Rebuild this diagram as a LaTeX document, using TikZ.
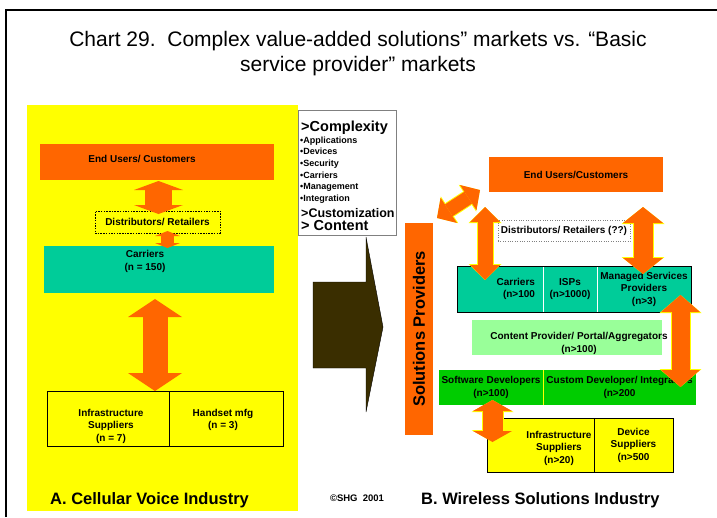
\documentclass[tikz,border=0pt]{standalone}
\usepackage{fontspec}
\setmainfont{Liberation Sans}
\usepackage{tikz}
\usetikzlibrary{positioning,calc,arrows.meta}

\definecolor{orng}{RGB}{255,102,0}
\definecolor{ylw}{RGB}{255,255,0}
\definecolor{teal2}{RGB}{0,204,153}
\definecolor{ltgreen}{RGB}{153,255,153}
\definecolor{grn}{RGB}{0,204,0}
\definecolor{darkbrown}{RGB}{58,46,0}

\begin{document}
\begin{tikzpicture}[x=1pt, y=-1pt,
    cellbox/.style 2 args={minimum width=#1, minimum height=#2, inner sep=0pt, outer sep=0pt,
        font=\bfseries\fontsize{10}{12.5}\selectfont, align=center},
    lbl/.style={font=\bfseries\fontsize{10}{12.5}\selectfont, align=center, inner sep=0pt},
    heading/.style={font=\bfseries\fontsize{16.5}{19}\selectfont, inner sep=0pt},
    bigline/.style={font=\bfseries\fontsize{#1}{16}\selectfont, anchor=west, inner sep=0pt},
    dbl/.style args={#1/#2/#3}{draw=orng, line width=#1,
        {Triangle[width=#2,length=#3,line width=0pt]}-{Triangle[width=#2,length=#3,line width=0pt]}},
    rim/.style args={#1/#2/#3}{preaction={draw=ylw, line width=#1,
        {Triangle[width=#2,length=#3,line width=0pt]}-{Triangle[width=#2,length=#3,line width=0pt]}}}]

    \useasboundingbox (0,0) rectangle (717,517);

    % frame and title
    \draw[line width=2pt] (6,517) -- (6,10) -- (717,10);
    \node[font=\fontsize{21}{25}\selectfont, align=center] (title) at (358,53.5)
        {Chart 29.\ \ Complex value-added solutions” markets vs. “Basic\\service provider” markets};

    % A. Cellular voice industry
    \fill[ylw] (27,105) rectangle (298,511);
    \node[cellbox={234}{36}, fill=orng] (euA) at (157,162) {};
    \node[lbl] (euAtxt) at (142,159) {End Users/ Customers};
    \node[cellbox={125}{22}, fill=ylw, draw, dash pattern=on 1.5pt off 1.2pt] (distA) at (157.5,222) {Distributors/ Retailers};
    \node[cellbox={230}{47}, fill=teal2] (carA) at (159,269.5) {};
    \node[lbl] (carAtxt) at (145,261.5) {Carriers\\(n = 150)};
    \node[cellbox={122}{55}, draw, thick] (infA) at (108,418.5) {};
    \node[cellbox={114}{55}, draw, thick, right=0pt of infA] (hsA) {};
    \node[lbl] (infAtxt) at (111,426) {Infrastructure\\Suppliers\\(n = 7)};
    \node[lbl] (hsAtxt) at (223,420) {Handset mfg\\(n = 3)};

    \draw[dbl=27pt/49pt/9pt] ($(euA.south)+(1.5,1)$) -- ($(distA.north)+(1,3)$);
    \draw[dbl=13pt/25pt/5pt] ($(distA.south)+(10,-2)$) -- ($(carA.north)+(8.5,2)$);
    \draw[dbl=25pt/54pt/18pt] ($(carA.south)+(-4,6)$) -- ($(infA.north east)+(-14,0)$);

    \node[heading, anchor=west] (titleA) at (50,500) {A. Cellular Voice Industry};

    % shift arrow
    \filldraw[fill=darkbrown, draw=black] (313,282) -- (366,282) -- (366,237) -- (383,327)
        -- (366,412) -- (366,368) -- (313,368) -- cycle;

    % what changes
    \node[draw=gray, fill=white, minimum width=98, minimum height=125, inner sep=0pt] (cplx) at (347,172.5) {};
    \node[bigline=14.5] (cx) at (301,128) {>Complexity};
    \node[font=\bfseries\fontsize{9}{11.6}\selectfont, align=left, anchor=north west, inner sep=0pt] (cxlist) at (300,136.5)
        {•Applications\\•Devices\\•Security\\•Carriers\\•Management\\•Integration};
    \node[bigline=12.5] (cu) at (301,213) {>Customization};
    \node[bigline=14.5] (ct) at (301,226) {> Content};

    % B. Wireless solutions industry
    \node[cellbox={28}{212}, fill=orng] (sp) at (419,329) {};
    \node[font=\bfseries\fontsize{16.5}{19}\selectfont, rotate=90] (sptxt) at (sp.center) {Solutions Providers};
    \node[cellbox={174}{35}, fill=orng] (euB) at (576,174.5) {End Users/Customers};
    \node[cellbox={132}{21}, draw=gray, dotted] (distB) at (564,230.5) {Distributors/ Retailers (??)};
    \node[cellbox={86}{46}, fill=teal2, draw=white] (carB) at (500,289) {};
    \node[lbl, align=right, text width=70pt] (carBtxt) at (carB) {Carriers\\(n>100};
    \node[cellbox={54}{46}, fill=teal2, draw=white, right=0pt of carB] (ispB) {ISPs\\(n>1000)};
    \node[cellbox={94}{46}, fill=teal2, draw=white, right=0pt of ispB] (msB) {Managed Services\\Providers\\(n>3)};
    \draw[thick] (carB.north west) rectangle (msB.south east);
    \node[cellbox={190}{35}, fill=ltgreen] (cpB) at (567,337.5) {};
    \node[lbl] (cpBtxt) at (579,343.5) {Content Provider/ Portal/Aggregators\\(n>100)};
    \node[cellbox={104}{35}, fill=grn] (swB) at (491,387.5) {Software Developers\\(n>100)};
    \node[cellbox={153}{35}, fill=grn, right=0pt of swB] (cdB) {Custom Developer/ Integrators\\(n>200};
    \draw[ylw] (swB.north east) -- (swB.south east);
    \node[cellbox={107}{54}, fill=ylw, draw, thick] (inB) at (540.5,445) {};
    \node[cellbox={79}{54}, fill=ylw, draw, thick, right=0pt of inB] (dvB) {Device\\Suppliers\\(n>500};
    \node[lbl] (inBtxt) at (559,448) {Infrastructure\\Suppliers\\(n>20)};

    \draw[rim=16pt/32pt/15pt, dbl=14pt/30pt/14pt] ($(sp.north east)+(4,-5)$) -- ($(euB.south west)+(-9,-2)$);
    \draw[rim=17pt/33pt/16pt, dbl=15pt/30pt/15pt] ($(euB.south west)+(-4,15)$) -- ($(carB.north)+(-15,14)$);
    \draw[rim=21pt/43pt/17pt, dbl=19pt/40pt/16pt] ($(euB.south east)+(-20,15)$) -- ($(msB.north)+(-1,8)$);
    \draw[rim=20pt/42pt/18pt, dbl=18pt/39pt/17pt] ($(msB.south east)+(-10.5,-17)$) -- ($(cdB.north east)+(-15.5,17)$);
    \draw[rim=22pt/42pt/12pt, dbl=20pt/39pt/11pt] ($(swB.south)+(1.5,-5)$) -- ($(inB.north west)+(5.5,24)$);

    \node[heading, anchor=west] (titleB) at (421,500) {B. Wireless Solutions Industry};
    \node[font=\bfseries\fontsize{9.5}{11}\selectfont] (copy) at (357,498) {©SHG\ \ 2001};
\end{tikzpicture}
\end{document}
